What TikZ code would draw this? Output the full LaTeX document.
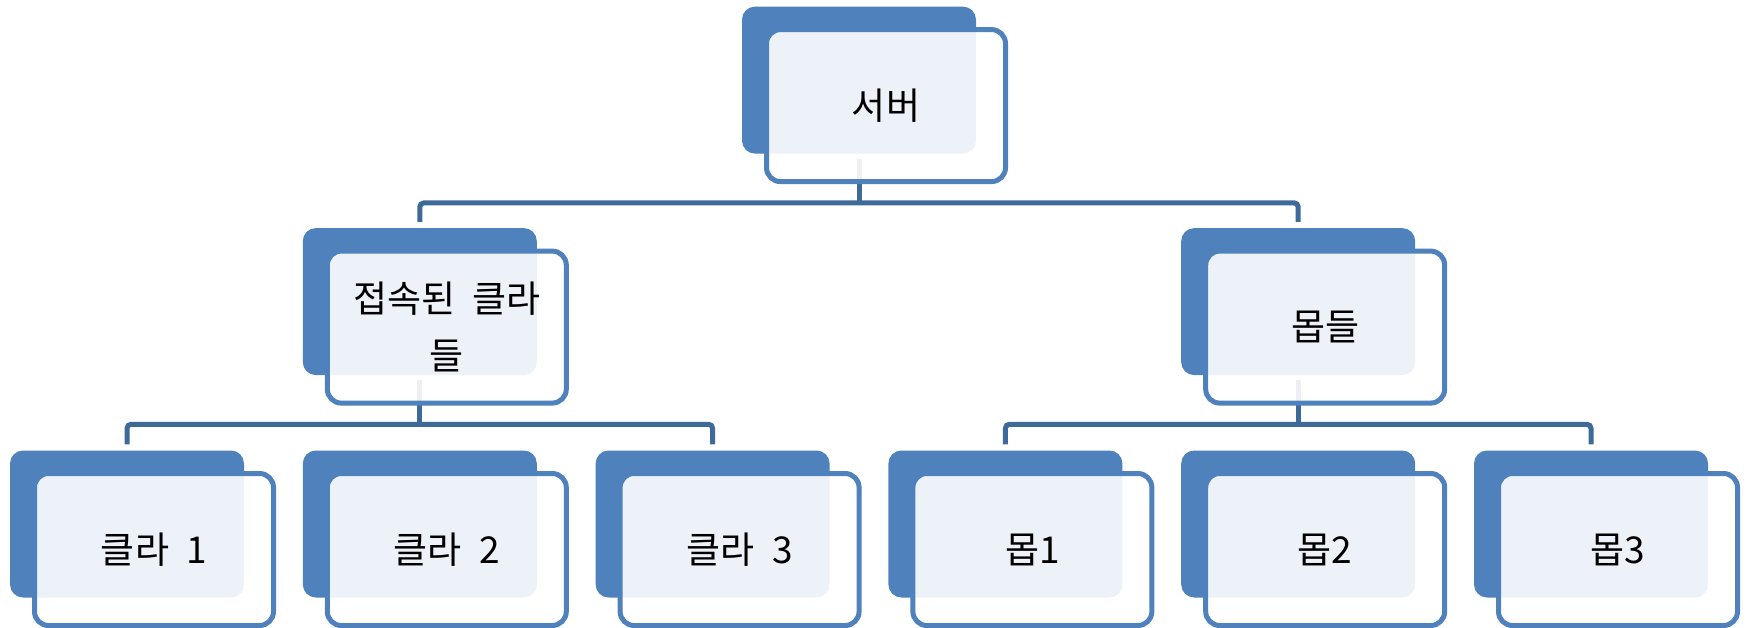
\documentclass[tikz,border=0pt]{standalone}
\usepackage{fontspec}
\usepackage{xcolor}
\usetikzlibrary{positioning,calc}
\newfontfamily\krfont[WordSpace=2.1]{Noto Sans CJK KR}
\definecolor{AccentBlue}{HTML}{4F81BD}
\definecolor{LinkBlue}{HTML}{3E6A9A}
\tikzset{
  backbox/.style={rounded corners=13pt, fill=AccentBlue, minimum width=234pt, minimum height=147pt, inner sep=0pt},
  frontbox/.style={rounded corners=14pt, draw=AccentBlue, line width=5pt, fill=white, fill opacity=0.9, text opacity=1, minimum width=239pt, minimum height=152pt, inner sep=0pt, align=center, font=\krfont\fontsize{37}{57}\selectfont, xshift=27pt, yshift=-25.5pt},
  link/.style={draw=LinkBlue, line width=5pt, rounded corners=4pt}
}

\begin{document}
\begin{tikzpicture}[x=1pt, y=1pt, node distance=75pt and 58.4pt]
\useasboundingbox (0,0) rectangle (1746,-627);

% back plates
\node[backbox] (c1) at (127,-524) {};
\node[backbox, right=of c1] (c2) {};
\node[backbox, right=of c2] (c3) {};
\node[backbox, right=of c3] (m1) {};
\node[backbox, right=of m1] (m2) {};
\node[backbox, right=of m2] (m3) {};
\node[backbox, above=of c2] (clients) {};
\node[backbox, above=of m2] (mobs) {};
\node[backbox] (server) at ($(clients)!0.5!(mobs)+(0,221.5)$) {};

% connectors
\coordinate (topbar) at ([yshift=25pt]clients.north);
\coordinate (lowbar) at ([yshift=26pt]c1.north);
\draw[link] ([yshift=-5pt]server.south) -- (server.south |- topbar);
\draw[link] ([yshift=6pt]clients.north) -- (clients.north |- topbar)
    -- (mobs.north |- topbar) -- ([yshift=6pt]mobs.north);
\draw[link] ([yshift=-5pt]clients.south) -- (clients.south |- lowbar);
\draw[link] ([yshift=6pt]c1.north) -- (c1.north |- lowbar)
    -- (c3.north |- lowbar) -- ([yshift=6pt]c3.north);
\draw[link] ([yshift=-5pt]mobs.south) -- (mobs.south |- lowbar);
\draw[link] ([yshift=6pt]m1.north) -- (m1.north |- lowbar)
    -- (m3.north |- lowbar) -- ([yshift=6pt]m3.north);

% front cards
\node[frontbox] (server-f) at (server) {서버};
\node[frontbox] (clients-f) at (clients) {접속된 클라\\들};
\node[frontbox] (mobs-f) at (mobs) {몹들};
\node[frontbox] (c1-f) at (c1) {클라 1};
\node[frontbox] (c2-f) at (c2) {클라 2};
\node[frontbox] (c3-f) at (c3) {클라 3};
\node[frontbox] (m1-f) at (m1) {몹1};
\node[frontbox] (m2-f) at (m2) {몹2};
\node[frontbox] (m3-f) at (m3) {몹3};
\end{tikzpicture}
\end{document}
